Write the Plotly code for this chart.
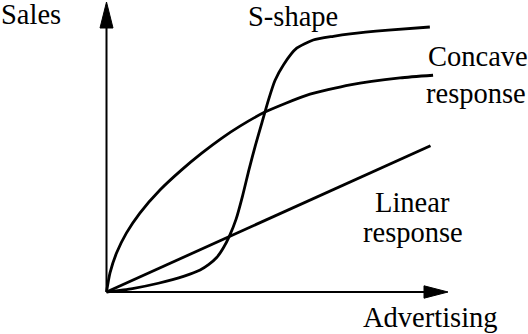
import plotly.graph_objects as go

# ---- data (x = advertising, y = sales, arbitrary units) ----
linear_x = [0, 100]
linear_y = [0, 55.2]

concave_x = [0, 1.08, 3.09, 6.17, 10.3, 16.5, 23.1, 29.3, 35.5, 41.2, 48.9, 61.7, 75.2, 90.6, 100.8]
concave_y = [0, 7.2, 14.7, 22.3, 29.8, 38.5, 46.0, 52.3, 58.0, 62.6, 67.9, 74.2, 78.2, 80.8, 81.8]

s_x = [0, 8, 16, 24, 28.9, 31.5, 34, 36, 38, 40, 42, 44, 46, 48, 50, 52, 54.6, 58.7, 63.8, 70, 75.2, 87, 99.8]
s_y = [0, 1.3, 3.3, 6.0, 8.3, 10.3, 13.0, 16.5, 21.3, 27.5, 36.3, 46.3, 55.5, 64.0, 72.5, 79.8, 85.7, 92.0, 95.1, 96.5, 97.4, 98.8, 100.0]

axis_labels = {"x": "Advertising", "y": "Sales"}
curve_labels = ["S-shape", "Concave", "response", "Linear", "response"]

# ---- layout geometry ----
W, H = 528, 334
X0, Y0 = 106.5, 292.0      # pixel of the origin
SX, SY = 3.24, 2.65        # pixels per data unit

x_range = [-X0 / SX, (W - X0) / SX]
y_range = [-(H - Y0) / SY, Y0 / SY]


def px(x):
    return x / W


def py(y):
    return 1 - y / H


fig = go.Figure()
line_style = dict(color="black", width=2.8, shape="spline", smoothing=0.6)
for xs, ys in [(linear_x, linear_y), (concave_x, concave_y), (s_x, s_y)]:
    fig.add_trace(go.Scatter(x=xs, y=ys, mode="lines", line=line_style,
                             hoverinfo="skip", showlegend=False))

# axes with arrowheads (in data units)
y_tip = (Y0 - 2) / SY
y_base = (Y0 - 28) / SY
x_tip = (448 - X0) / SX
x_base = (424 - X0) / SX
hw_x = 6.5 / SX
hh_y = 6.2 / SY

fig.add_shape(type="line", x0=0, y0=0, x1=0, y1=y_base + 1, line=dict(color="black", width=2))
fig.add_shape(type="line", x0=0, y0=0, x1=x_base + 1, y1=0, line=dict(color="black", width=2))
fig.add_shape(type="path",
              path=f"M {-hw_x},{y_base} L {hw_x},{y_base} L 0,{y_tip} Z",
              fillcolor="black", line=dict(color="black", width=1))
fig.add_shape(type="path",
              path=f"M {x_base},{-hh_y} L {x_base},{hh_y} L {x_tip},0 Z",
              fillcolor="black", line=dict(color="black", width=1))

font = dict(family="Liberation Serif", size=28.5, color="black")
labels = [
    (axis_labels["y"], 0, 15, "left", "middle"),
    (curve_labels[0], 292.5, 0, "center", "top"),
    (curve_labels[1], 477.5, 56, "center", "middle"),
    (curve_labels[2], 476, 93.5, "center", "middle"),
    (curve_labels[3], 412.5, 202.5, "center", "middle"),
    (curve_labels[4], 412.5, 232.5, "center", "middle"),
    (axis_labels["x"], 430, 317.5, "center", "middle"),
]
for text, x, y, anc, vanc in labels:
    fig.add_annotation(text=text, x=px(x), y=py(y), xref="paper", yref="paper",
                       xanchor=anc, yanchor=vanc, showarrow=False, font=font,
                       borderpad=0)

fig.update_layout(
    width=W, height=H,
    margin=dict(l=0, r=0, t=0, b=0),
    paper_bgcolor="white", plot_bgcolor="white",
    xaxis=dict(range=x_range, visible=False, fixedrange=True),
    yaxis=dict(range=y_range, visible=False, fixedrange=True),
)

fig.write_html(
    "out.html",
    config={"displayModeBar": False},
    post_script="document.body.style.margin='0';document.body.style.padding='0';"
                "document.body.style.overflow='hidden';",
)
